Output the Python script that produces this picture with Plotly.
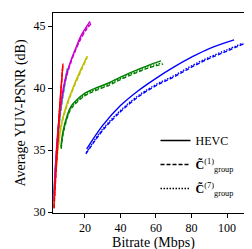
import plotly.graph_objects as go

# ---- data (Bitrate Mbps, PSNR dB) ----
blue_hevc_x = [21, 30, 40, 50, 60, 70, 80, 90, 104]
blue_hevc_y = [35.1, 37.0, 38.6, 39.8, 40.8, 41.7, 42.5, 43.2, 43.9]
blue_c1_x = [20.5, 30, 40, 50, 60, 70, 80, 90, 100, 109.6]
blue_c1_y = [34.7, 36.6, 38.1, 39.3, 40.2, 40.9, 41.7, 42.4, 43.0, 43.6]
blue_c7_x = [20.7, 30, 40, 50, 60, 70, 80, 90, 100, 109]
blue_c7_y = [34.8, 36.7, 38.2, 39.4, 40.3, 41.0, 41.8, 42.5, 43.1, 43.65]

green_hevc_x = [6.5, 7.6, 10, 12, 15, 20, 25, 33, 40, 48, 55, 62.8]
green_hevc_y = [35.3, 36.5, 37.8, 38.5, 39.0, 39.6, 39.95, 40.4, 40.9, 41.4, 41.8, 42.2]
green_c1_x = [6.6, 7.7, 10, 12, 15, 20, 25, 33, 40, 48, 55, 64]
green_c1_y = [35.1, 36.3, 37.6, 38.3, 38.8, 39.4, 39.75, 40.2, 40.7, 41.2, 41.6, 41.95]
green_c7_x = [6.6, 7.7, 10, 12, 15, 20, 25, 33, 40, 48, 55, 63.5]
green_c7_y = [35.2, 36.4, 37.7, 38.4, 38.9, 39.5, 39.85, 40.3, 40.8, 41.3, 41.7, 42.05]

magenta_hevc_x = [2.5, 3.5, 5, 7, 9, 12, 15, 18, 21, 22.8]
magenta_hevc_y = [31.0, 34.0, 37.0, 39.3, 40.8, 42.2, 43.3, 44.3, 45.0, 45.4]
magenta_c1_x = [2.6, 3.6, 5.1, 7.1, 9.1, 12.1, 15.1, 18.1, 21.1, 23.4]
magenta_c1_y = [30.9, 33.9, 36.9, 39.2, 40.7, 42.1, 43.2, 44.1, 44.8, 45.2]
magenta_c7_x = [2.6, 3.6, 5.1, 7.1, 9.1, 12.1, 15.1, 18.1, 21.1, 23.1]
magenta_c7_y = [30.95, 33.95, 36.95, 39.25, 40.75, 42.15, 43.25, 44.2, 44.9, 45.3]

red_hevc_x = [2.5, 3.5, 4.5, 5.5, 6.5, 7.6]
red_hevc_y = [30.4, 33.0, 35.5, 38.0, 40.0, 42.0]
red_c1_x = [2.6, 3.6, 4.6, 5.6, 6.6, 7.5]
red_c1_y = [30.3, 32.9, 35.4, 37.9, 39.9, 41.8]
red_c7_x = [2.55, 3.55, 4.55, 5.55, 6.55, 7.55]
red_c7_y = [30.35, 32.95, 35.45, 37.95, 39.95, 41.9]

cyan_hevc_x = [2.5, 3.5, 5, 6.5, 8.5, 10]
cyan_hevc_y = [31.5, 34.0, 36.5, 38.5, 40.3, 41.6]
cyan_c1_x = [2.6, 3.6, 5.1, 6.6, 8.6, 10.1]
cyan_c1_y = [31.4, 33.9, 36.4, 38.4, 40.2, 41.5]
cyan_c7_x = [2.55, 3.55, 5.05, 6.55, 8.55, 10.05]
cyan_c7_y = [31.45, 33.95, 36.45, 38.45, 40.25, 41.55]

yellow_hevc_x = [3.7, 5, 7, 10, 14, 18, 21.3]
yellow_hevc_y = [33.6, 35.5, 37.3, 38.8, 40.3, 41.6, 42.6]
yellow_c1_x = [3.8, 5.1, 7.1, 10.1, 14.1, 18.1, 21.3]
yellow_c1_y = [33.5, 35.4, 37.2, 38.7, 40.2, 41.5, 42.5]
yellow_c7_x = [3.75, 5.05, 7.05, 10.05, 14.05, 18.05, 21.3]
yellow_c7_y = [33.55, 35.45, 37.25, 38.75, 40.25, 41.55, 42.55]

colors = {"blue": "#0000ff", "green": "#008000", "magenta": "#cc00cc",
          "red": "#ff0000", "cyan": "#00bfbf", "yellow": "#bfbf00"}

series = [
    ("blue", blue_hevc_x, blue_hevc_y, blue_c1_x, blue_c1_y, blue_c7_x, blue_c7_y),
    ("green", green_hevc_x, green_hevc_y, green_c1_x, green_c1_y, green_c7_x, green_c7_y),
    ("yellow", yellow_hevc_x, yellow_hevc_y, yellow_c1_x, yellow_c1_y, yellow_c7_x, yellow_c7_y),
    ("cyan", cyan_hevc_x, cyan_hevc_y, cyan_c1_x, cyan_c1_y, cyan_c7_x, cyan_c7_y),
    ("magenta", magenta_hevc_x, magenta_hevc_y, magenta_c1_x, magenta_c1_y, magenta_c7_x, magenta_c7_y),
    ("red", red_hevc_x, red_hevc_y, red_c1_x, red_c1_y, red_c7_x, red_c7_y),
]

fig = go.Figure()
for name, hx, hy, c1x, c1y, c7x, c7y in series:
    col = colors[name]
    fig.add_trace(go.Scatter(x=hx, y=hy, mode="lines", line=dict(color=col, width=1.4, shape="spline"), showlegend=False))
    fig.add_trace(go.Scatter(x=c1x, y=c1y, mode="lines", line=dict(color=col, width=1.4, dash="4px,2px", shape="spline"), showlegend=False))
    fig.add_trace(go.Scatter(x=c7x, y=c7y, mode="lines", line=dict(color=col, width=1.4, dash="1.5px,1.5px", shape="spline"), showlegend=False))

legend_names = ["HEVC", "<b>C̃</b><sup>(1)</sup><sub>group</sub>", "<b>C̃</b><sup>(7)</sup><sub>group</sub>"]
legend_dash = ["solid", "4px,2px", "1.5px,1.5px"]
for i, (nm, ds) in enumerate(zip(legend_names, legend_dash)):
    fig.add_trace(go.Scatter(x=[None], y=[None], mode="lines", name=nm, legendgroup=f"g{i}",
                             line=dict(color="black", width=1.4, dash=ds)))

fig.update_layout(
    width=252, height=249,
    margin=dict(l=45, r=6, t=5, b=44),
    paper_bgcolor="white", plot_bgcolor="white",
    font=dict(family="Liberation Serif", size=12, color="black"),
    legend=dict(x=0.51, y=0.05, xanchor="left", yanchor="bottom",
                bgcolor="rgba(255,255,255,0)", font=dict(size=12, color="black"),
                tracegroupgap=5, itemwidth=30),
)
fig.update_xaxes(range=[2, 115.2], tickvals=[20, 40, 60, 80, 100],
                 title=dict(text="Bitrate (Mbps)", standoff=0),
                 showline=True, linecolor="black", linewidth=1, mirror=True,
                 ticks="outside", ticklen=4, tickcolor="black", showgrid=False, zeroline=False)
fig.update_yaxes(range=[29.93, 46.07], tickvals=[30, 35, 40, 45],
                 title=dict(text="Average YUV-PSNR (dB)", standoff=4),
                 showline=True, linecolor="black", linewidth=1, mirror=True,
                 ticks="outside", ticklen=4, tickcolor="black", showgrid=False, zeroline=False)

fig.write_html("out.html")
